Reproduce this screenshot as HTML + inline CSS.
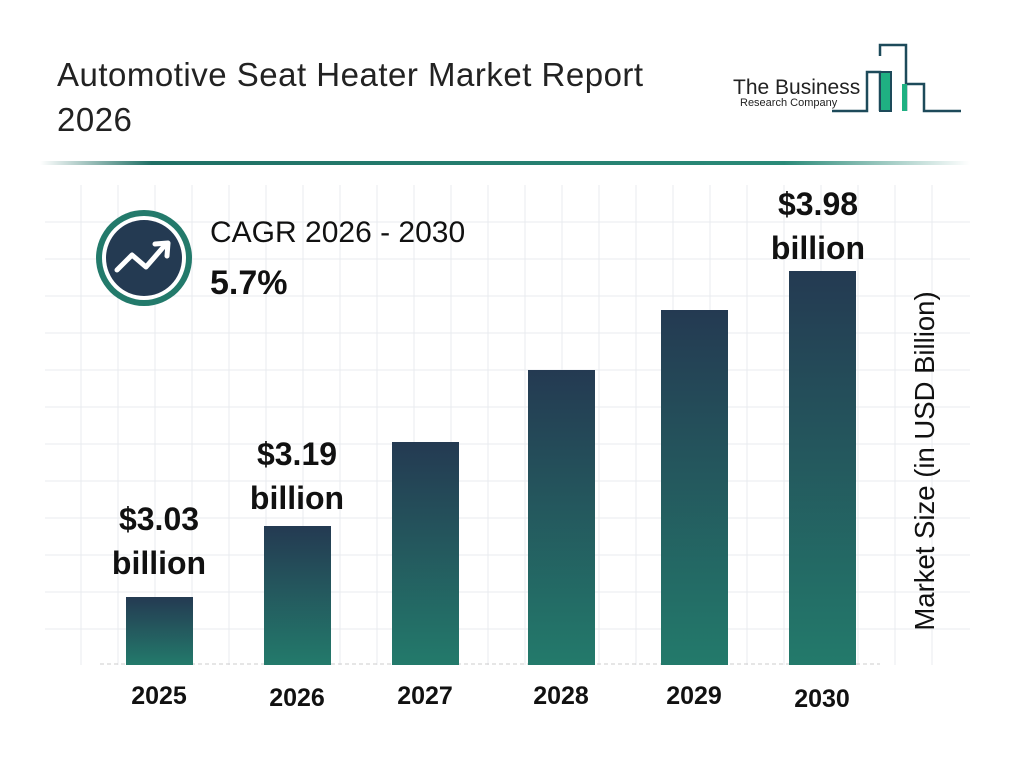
<!DOCTYPE html>
<html><head><style>
body{margin:0;width:1024px;height:768px;background:#fff;font-family:"Liberation Sans",Roboto,sans-serif;position:relative;overflow:hidden}
.t{position:absolute;left:57px;top:52px;font-size:33px;line-height:45px;color:#222;letter-spacing:0.5px}
.bar{position:absolute;width:67px;background:linear-gradient(#243a52,#237a6b);bottom:103px}
.lbl{position:absolute;font-weight:bold;font-size:32px;text-align:center;width:160px;line-height:44px;color:#111}
.yr{position:absolute;top:682px;font-weight:bold;font-size:25px;width:100px;text-align:center;color:#111}
</style></head><body>
<svg width="1024" height="768" style="position:absolute;left:0;top:0">
<defs><linearGradient id="hl" x1="0" x2="1"><stop offset="0" stop-color="#fff"/><stop offset="0.12" stop-color="#1f6f64"/><stop offset="0.8" stop-color="#2a8a78"/><stop offset="1" stop-color="#fff"/></linearGradient></defs>
<rect x="40" y="161" width="930" height="4" fill="url(#hl)"/>
<g stroke="#e9ebef" stroke-width="1">
<path d="M81 185V665M118 185V665M155 185V665M192 185V665M229 185V665M266 185V665M303 185V665M340 185V665M377 185V665M414 185V665M451 185V665M488 185V665M525 185V665M562 185V665M599 185V665M636 185V665M673 185V665M710 185V665M747 185V665M784 185V665M821 185V665M858 185V665M895 185V665M932 185V665"/>
<path d="M45 222H970M45 259H970M45 296H970M45 333H970M45 370H970M45 407H970M45 444H970M45 481H970M45 518H970M45 555H970M45 592H970M45 629H970"/>
</g>
<line x1="100" y1="664" x2="880" y2="664" stroke="#ccc" stroke-dasharray="4,3"/>
<circle cx="144" cy="258" r="48" fill="#237a6b"/><circle cx="144" cy="258" r="42" fill="#fff"/><circle cx="144" cy="258" r="38" fill="#243a52"/>
<polyline points="117,270 132,255 146,267 166,244" fill="none" stroke="#fff" stroke-width="5" stroke-linecap="round" stroke-linejoin="round"/>
<polyline points="155,244 168,243 167,256" fill="none" stroke="#fff" stroke-width="5" stroke-linecap="round" stroke-linejoin="round"/>
<g fill="none" stroke="#1d4a5a" stroke-width="2.5">
<path d="M832 111H867V72H880V111H880M880 56V45H906V111M906 84H924V111H961"/>
</g>
<rect x="880" y="72" width="11" height="39" fill="#1fb082" stroke="#1d4a5a" stroke-width="2"/>
<rect x="902" y="84" width="5" height="27" fill="#1fb082"/>
<text x="733" y="94" font-size="21" fill="#222" font-family="Liberation Sans">The Business</text>
<text x="740" y="106" font-size="11" fill="#222" font-family="Liberation Sans">Research Company</text>
</svg>
<div class="t">Automotive Seat Heater Market Report<br>2026</div>
<div style="position:absolute;left:210px;top:216px;font-size:30px;color:#111">CAGR 2026 - 2030</div>
<div style="position:absolute;left:210px;top:264px;font-size:34px;font-weight:bold;color:#111">5.7%</div>
<div class="bar" style="left:126px;height:68px"></div>
<div class="bar" style="left:264px;height:139px"></div>
<div class="bar" style="left:392px;height:223px"></div>
<div class="bar" style="left:528px;height:295px"></div>
<div class="bar" style="left:661px;height:355px"></div>
<div class="bar" style="left:789px;height:394px"></div>
<div class="lbl" style="left:79px;top:497px">$3.03<br>billion</div>
<div class="lbl" style="left:217px;top:432px">$3.19<br>billion</div>
<div class="lbl" style="left:738px;top:182px">$3.98<br>billion</div>
<div class="yr" style="left:109px">2025</div>
<div class="yr" style="left:247px;top:684px">2026</div>
<div class="yr" style="left:375px">2027</div>
<div class="yr" style="left:511px">2028</div>
<div class="yr" style="left:644px">2029</div>
<div class="yr" style="left:772px;top:685px">2030</div>
<div style="position:absolute;left:925px;top:461px;transform:translate(-50%,-50%) rotate(-90deg);font-size:27.5px;white-space:nowrap;color:#111">Market Size (in USD Billion)</div>
</body></html>
